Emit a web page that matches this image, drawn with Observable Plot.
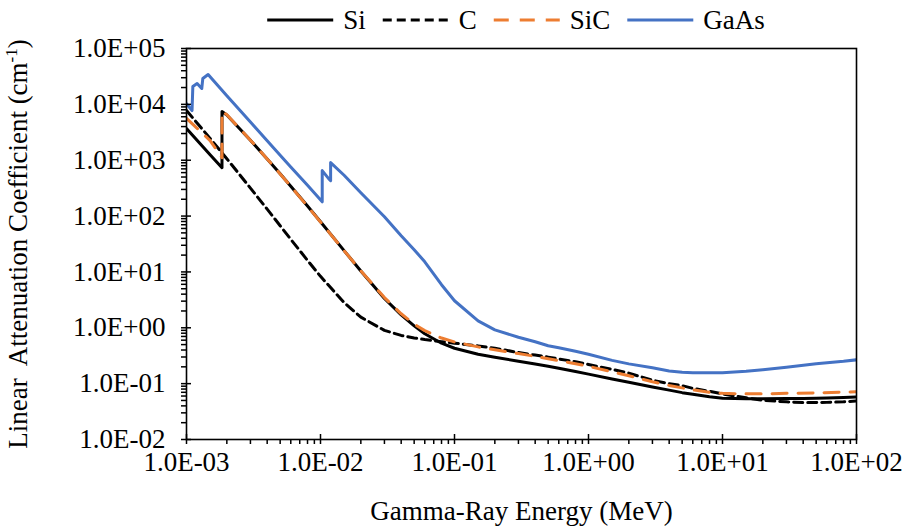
<!DOCTYPE html>
<html>
<head>
<meta charset="utf-8">
<script src="https://cdn.jsdelivr.net/npm/d3@7"></script>
<script src="https://cdn.jsdelivr.net/npm/@observablehq/plot@0.6"></script>
<style>
  body { margin: 0; background: #fff; }
  #legend svg, #chart svg { display: block; }
</style>
</head>
<body>
<div id="legend"></div>
<div id="chart"></div>
<script>
// ---- Series definitions ----
const seriesNames  = ["Si", "C", "SiC", "GaAs"];
const seriesColors = ["#000000", "#000000", "#ED7D31", "#4472C4"];
const seriesDash   = [null, "9,5", "15,11", null];

// ---- Data: energy (MeV) and linear attenuation coefficient (cm^-1) ----
const siEnergy = [0.001, 0.0015, 0.00184, 0.00184, 0.002, 0.003, 0.004, 0.005, 0.006, 0.008, 0.01, 0.015, 0.02, 0.03, 0.04, 0.05, 0.06, 0.08, 0.1, 0.15, 0.2, 0.3, 0.4, 0.5, 0.6, 0.8, 1, 1.5, 2, 3, 4, 5, 6, 8, 10, 15, 20, 30, 40, 50, 60, 80, 100];
const siMu     = [3680, 1250, 736, 7430, 6470, 2280, 1055, 571, 343, 151, 79.0, 24.1, 10.4, 3.35, 1.70, 1.08, 0.78, 0.53, 0.43, 0.335, 0.297, 0.252, 0.224, 0.204, 0.188, 0.165, 0.148, 0.121, 0.106, 0.0870, 0.0765, 0.0690, 0.0645, 0.0580, 0.0550, 0.0538, 0.0537, 0.0540, 0.0544, 0.0548, 0.0553, 0.0563, 0.0575];

const cEnergy = [0.001, 0.0015, 0.002, 0.003, 0.004, 0.005, 0.006, 0.008, 0.01, 0.015, 0.02, 0.03, 0.04, 0.05, 0.06, 0.08, 0.1, 0.15, 0.2, 0.3, 0.4, 0.5, 0.6, 0.8, 1, 1.5, 2, 3, 4, 5, 6, 8, 10, 15, 20, 30, 40, 50, 60, 80, 100];
const cMu     = [7760, 2460, 1062, 317, 133, 67.1, 38.4, 16.1, 8.33, 2.83, 1.55, 0.90, 0.73, 0.657, 0.615, 0.565, 0.531, 0.473, 0.431, 0.360, 0.325, 0.298, 0.277, 0.247, 0.220, 0.180, 0.154, 0.115, 0.100, 0.092, 0.0824, 0.0728, 0.0656, 0.0557, 0.0503, 0.0472, 0.0458, 0.0458, 0.0462, 0.0472, 0.0490];

const sicEnergy = [0.001, 0.0015, 0.00184, 0.00184, 0.002, 0.003, 0.004, 0.005, 0.006, 0.008, 0.01, 0.015, 0.02, 0.03, 0.04, 0.05, 0.06, 0.08, 0.1, 0.15, 0.2, 0.3, 0.4, 0.5, 0.6, 0.8, 1, 1.5, 2, 3, 4, 5, 6, 8, 10, 15, 20, 30, 50, 100];
const sicMu     = [5600, 2250, 1110, 7540, 6530, 2286, 1054, 569, 341, 149.7, 78.4, 24.0, 10.46, 3.47, 1.78, 1.165, 0.889, 0.656, 0.558, 0.455, 0.405, 0.346, 0.308, 0.280, 0.259, 0.227, 0.204, 0.163, 0.138, 0.108, 0.093, 0.084, 0.0774, 0.0698, 0.0670, 0.0656, 0.0656, 0.0670, 0.0684, 0.0713];

const gaasEnergy = [0.001, 0.0011, 0.001115, 0.0012, 0.0013, 0.001323, 0.00145, 0.002, 0.003, 0.004, 0.005, 0.006, 0.008, 0.0103, 0.0103, 0.0115, 0.0119, 0.0119, 0.015, 0.02, 0.03, 0.04, 0.05, 0.06, 0.08, 0.1, 0.15, 0.2, 0.3, 0.4, 0.5, 0.6, 0.8, 1, 1.5, 2, 3, 4, 5, 6, 8, 10, 15, 20, 30, 50, 80, 100];
const gaasMu     = [10300, 7740, 20800, 23600, 19200, 29000, 34200, 14200, 4820, 2240, 1230, 758, 355, 180, 652, 468, 431, 906, 538, 262, 97.5, 44.6, 25.0, 15.2, 5.9, 3.05, 1.33, 0.92, 0.676, 0.561, 0.476, 0.438, 0.379, 0.335, 0.261, 0.226, 0.192, 0.169, 0.160, 0.156, 0.156, 0.156, 0.166, 0.177, 0.196, 0.226, 0.251, 0.267];

// ---- Axis ticks and labels ----
const xTicks = [1e-3, 1e-2, 1e-1, 1, 10, 100];
const xTickLabels = ["1.0E-03", "1.0E-02", "1.0E-01", "1.0E+00", "1.0E+01", "1.0E+02"];
const yTicks = [1e-2, 1e-1, 1, 10, 100, 1e3, 1e4, 1e5];
const yTickLabels = ["1.0E-02", "1.0E-01", "1.0E+00", "1.0E+01", "1.0E+02", "1.0E+03", "1.0E+04", "1.0E+05"];
const xTitle = "Gamma-Ray Energy (MeV)";
const yTitleMain = "Linear  Attenuation Coefficient (cm";
const yTitleSup = "-1";
const yTitleEnd = ")";

// minor tick positions (2..9 x each decade)
const minorsOf = (ticks) => {
  const out = [];
  for (let i = 0; i < ticks.length - 1; i++)
    for (let m = 2; m <= 9; m++) out.push(+(ticks[i] * m).toPrecision(6));
  return out;
};
const xMinor = minorsOf(xTicks);
const yMinor = minorsOf(yTicks);

const build = (E, M) => E.map((e, i) => ({E: e, mu: M[i]}));
const seriesData = [build(siEnergy, siMu), build(cEnergy, cMu), build(sicEnergy, sicMu), build(gaasEnergy, gaasMu)];

const FONT = '"Liberation Serif", "Times New Roman", Times, serif';

const lineMarks = seriesData.map((d, i) =>
  Plot.line(d, {
    x: "E", y: "mu",
    stroke: seriesColors[i],
    strokeWidth: 3,
    strokeDasharray: seriesDash[i] || undefined,
    strokeLinejoin: "round",
    clip: true
  })
);

const plot = Plot.plot({
  width: 906,
  height: 489,
  marginTop: 8,
  marginRight: 50,
  marginBottom: 90,
  marginLeft: 186,
  style: {fontFamily: FONT, fontSize: "27px", color: "black", background: "transparent", overflow: "visible"},
  x: {type: "log", domain: [1e-3, 1e2]},
  y: {type: "log", domain: [1e-2, 1e5]},
  marks: [
    ...lineMarks,
    Plot.frame({stroke: "black", strokeWidth: 1.6}),
    Plot.axisY(yMinor, {tickSize: 5, tickFormat: () => "", label: null, strokeWidth: 1.5}),
    Plot.axisY(yTicks, {tickSize: 10, dx: 5, tickFormat: () => "", label: null, strokeWidth: 1.5}),
    Plot.axisY(yTicks, {tickSize: 0, tickPadding: 21, tickFormat: d => yTickLabels[yTicks.indexOf(d)],
      label: yTitleMain + yTitleSup + yTitleEnd, labelAnchor: "center", labelOffset: 179, labelArrow: "none"}),
    Plot.axisX(xMinor, {tickSize: 5, tickFormat: () => "", label: null, strokeWidth: 1.5}),
    Plot.axisX(xTicks, {tickSize: 10, dy: -5, tickFormat: () => "", label: null, strokeWidth: 1.5}),
    Plot.axisX(xTicks, {tickSize: 0, tickPadding: 12, tickFormat: d => xTickLabels[xTicks.indexOf(d)],
      label: xTitle, labelAnchor: "center", labelOffset: 80, labelArrow: "none"})
  ]
});
document.getElementById("chart").appendChild(plot);

// y-axis title with superscript
const ns = "http://www.w3.org/2000/svg";
const yl = plot.querySelector('g[aria-label="y-axis label"] text');
if (yl) {
  yl.textContent = "";
  const t1 = document.createElementNS(ns, "tspan"); t1.textContent = yTitleMain;
  const t2 = document.createElementNS(ns, "tspan"); t2.textContent = yTitleSup;
  t2.setAttribute("dy", "-10"); t2.setAttribute("font-size", "17px");
  const t3 = document.createElementNS(ns, "tspan"); t3.textContent = yTitleEnd;
  t3.setAttribute("dy", "10");
  yl.setAttribute("xml:space", "preserve");
  yl.style.whiteSpace = "pre";
  yl.append(t1, t2, t3);
}

// ---- Legend (above the chart) ----
const leg = d3.select("#legend").append("svg")
  .attr("width", 906).attr("height", 40)
  .style("font-family", FONT).style("font-size", "27px");
const lg = leg.append("g");
let cx = 0;
seriesNames.forEach((name, i) => {
  lg.append("line")
    .attr("x1", cx).attr("x2", cx + 66).attr("y1", 20).attr("y2", 20)
    .attr("stroke", seriesColors[i]).attr("stroke-width", 3)
    .attr("stroke-dasharray", seriesDash[i]);
  const t = lg.append("text").attr("x", cx + 76).attr("y", 29).attr("fill", "black").text(name);
  cx += 76 + t.node().getComputedTextLength() + 17;
});
const total = cx - 17;
lg.attr("transform", `translate(${516 - total / 2},0)`);
</script>
</body>
</html>
